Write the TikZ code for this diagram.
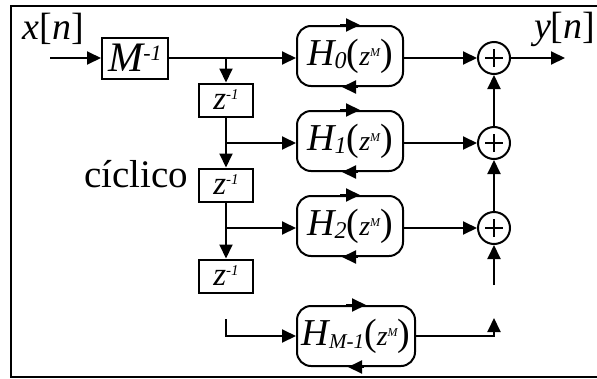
\documentclass[tikz,border=0pt]{standalone}
\usepackage{fontspec}
\setmainfont{Liberation Serif}
\usetikzlibrary{arrows.meta,calc}
\newcommand\fs[1]{\fontsize{#1}{#1}\selectfont}
\newcommand\Hlab[2][24]{\fs{38}\itshape H\raisebox{-3pt}{\fs{#1}#2}\upshape(\itshape\fs{28}z\raisebox{9pt}{\fs{12}M}\fs{38}\upshape)}
\newcommand\zinv{\fs{33}\itshape z\raisebox{10pt}{\fs{15}-1}\hspace{6pt}}
\begin{document}
\begin{tikzpicture}[x=1pt,y=-1pt,
  line width=2pt,
  >={Triangle[length=14pt,width=13pt]},
  zbox/.style={draw,line width=2pt,inner sep=0pt,minimum width=54pt,minimum height=33pt},
  hbox/.style={draw,line width=2pt,rounded corners=14pt,inner sep=0pt,minimum width=#1,minimum height=60pt},
  adder/.style={circle,draw,line width=2pt,minimum size=32pt,inner sep=0pt,
    path picture={\draw[line width=1.6pt] ([xshift=-9pt]path picture bounding box.center) -- ([xshift=9pt]path picture bounding box.center);
                  \draw[line width=1.6pt] ([yshift=-9pt]path picture bounding box.center) -- ([yshift=9pt]path picture bounding box.center);}},
  lbl/.style={anchor=base west,inner sep=0pt}]
\useasboundingbox (0,0) rectangle (597,378);
% frame
\draw[line width=2.6pt] (11,6) rectangle (610,377);
% texts
\node[lbl] (xn) at (22,39) {\fs{38}\itshape x\upshape[\itshape n\upshape]};
\node[lbl] (yn) at (533,38) {\fs{38}\itshape y\upshape[\itshape n\upshape]};
\node[lbl] (cic) at (83,187) {\fs{39}cíclico};
% blocks
\node[draw,line width=2pt,inner sep=0pt,minimum width=66pt,minimum height=41pt] (M) at (135,58) {\fs{42}\itshape M\raisebox{11pt}{\fs{22}-1}};
\node[zbox] (Z1) at (226,100) {\zinv};
\node[zbox] (Z2) at (226,185) {\zinv};
\node[zbox] (Z3) at (226,276) {\zinv};
\node[hbox=106pt] (H0) at (350,56) {\Hlab{0}};
\node[hbox=106pt] (H1) at (350,141) {\Hlab{1}};
\node[hbox=106pt] (H2) at (350,226) {\Hlab{2}};
\node[hbox=118pt] (HM) at (356,336) {\Hlab[21]{M-1}};
\node[adder] (A1) at (494,58) {};
\node[adder] (A2) at (494,143) {};
\node[adder] (A3) at (494,228) {};
% cyclic arrows on H boxes
\foreach \h in {H0,H1,H2,HM}{
  \draw[->] ([xshift=-10pt]\h.north) -- ([xshift=10pt]\h.north);
  \draw[->] ([xshift=8pt]\h.south) -- ([xshift=-8pt]\h.south);
}
% coordinates
\coordinate (in) at (50,58);
\coordinate (out) at (565,58);
\coordinate (b0) at (226,58);
\coordinate (b1) at (226,143);
\coordinate (b2) at (226,228);
\coordinate (c1) at (226,319);
\coordinate (c2) at (494,318);
\coordinate (c3) at (494,285);
% connectors
\draw[->] (in) -- (M.west);
\draw[->] (M.east) -- (M.east -| H0.west);
\draw[->] (b0) -- (Z1.north);
\draw[->] (Z1.south) -- (Z2.north);
\draw[->] (Z2.south) -- (Z3.north);
\draw[->] (b1) -- (b1 -| H1.west);
\draw[->] (b2) -- (b2 -| H2.west);
\draw[->] (c1) |- (HM.west);
\draw[->] (A1 -| H0.east) -- (A1.west);
\draw[->] (A2 -| H1.east) -- (A2.west);
\draw[->] (A3 -| H2.east) -- (A3.west);
\draw[->] (HM.east) -| (c2);
\draw[->] (c3) -- (A3.south);
\draw[->] (A3.north) -- (A2.south);
\draw[->] (A2.north) -- (A1.south);
\draw[->] (A1.east) -- (out);
\end{tikzpicture}
\end{document}
